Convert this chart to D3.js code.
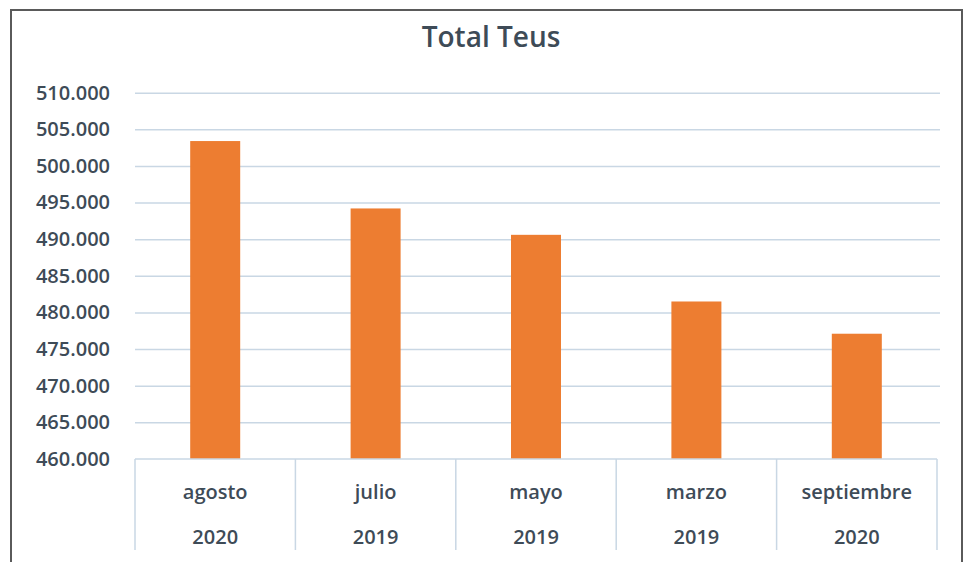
<!DOCTYPE html>
<html>
<head>
<meta charset="utf-8">
<script src="https://cdn.jsdelivr.net/npm/d3@7"></script>
<style>
  body { margin: 0; background: #fff; }
  svg { display: block; font-family: "Open Sans", "Noto Sans", sans-serif; }
</style>
</head>
<body>
<svg id="chart" width="967" height="562"></svg>
<script>
// datos
const meses = ["agosto", "julio", "mayo", "marzo", "septiembre"];
const anios = ["2020", "2019", "2019", "2019", "2020"];
const teus = [503400, 494200, 490600, 481500, 477100];
const yTicks = [460000, 465000, 470000, 475000, 480000, 485000, 490000, 495000, 500000, 505000, 510000];

class TeusBar {
    constructor (element) {
        this.svg = d3.select(element);
        this.margin = {top: 92.7, left: 135, right: 27, bottom: 103};
        this.width = 967 - this.margin.left - this.margin.right;
        this.height = 459 - this.margin.top;
        this.textColor = "#3e4b57";
        this.initScales();
        this.drawFrame();
        this.drawGrid();
        this.drawBars();
        this.drawXAxis();
    }

    initScales () {
        this.x = d3.scaleBand()
            .domain(d3.range(meses.length))
            .range([0, 802])
            .paddingInner(0)
            .paddingOuter(0);
        this.y = d3.scaleLinear()
            .domain([460000, 510000])
            .range([this.height, 0]);
    }

    drawFrame () {
        this.svg.append("path")
            .attr("d", "M11,570 L11,10 L962,10 L962,570")
            .attr("fill", "none")
            .attr("stroke", "#5a5a5a")
            .attr("stroke-width", 2);

        this.svg.append("text")
            .attr("x", 491)
            .attr("y", 47)
            .attr("text-anchor", "middle")
            .attr("font-size", 28)
            .attr("font-weight", 600)
            .attr("fill", this.textColor)
            .text("Total Teus");

        this.main = this.svg.append("g")
            .attr("transform", "translate(" + this.margin.left + "," + this.margin.top + ")");
    }

    drawGrid () {
        const fmt = d3.formatLocale({decimal: ",", thousands: ".", grouping: [3], currency: ["", ""]}).format(",.0f");
        const yAxis = this.main.append("g")
            .call(d3.axisLeft(this.y).tickValues(yTicks).tickSize(-805).tickFormat(d => fmt(d)).tickPadding(25));
        yAxis.select(".domain").remove();
        yAxis.selectAll(".tick line")
            .attr("stroke", "#c9d7e4")
            .attr("stroke-width", 1.5)
            .attr("opacity", d => d === 460000 ? 0 : 1);
        yAxis.selectAll(".tick text")
            .attr("font-size", 20)
            .attr("font-weight", 600)
            .attr("font-family", "'Open Sans', sans-serif")
            .attr("fill", this.textColor);
    }

    drawBars () {
        const bw = 50;
        this.main.append("g")
            .selectAll("rect")
            .data(teus)
            .enter()
            .append("rect")
            .attr("x", (d, i) => this.x(i) + this.x.bandwidth() / 2 - bw / 2)
            .attr("y", d => this.y(d))
            .attr("width", bw)
            .attr("height", d => this.height - this.y(d))
            .attr("fill", "#ed7d31");
    }

    drawXAxis () {
        const g = this.main.append("g")
            .attr("transform", "translate(0," + this.height + ")");
        const axisColor = "#c9d7e4";
        g.append("line")
            .attr("x1", 0).attr("x2", 802)
            .attr("y1", 0).attr("y2", 0)
            .attr("stroke", axisColor).attr("stroke-width", 1.5);
        g.selectAll("line.sep")
            .data(d3.range(meses.length + 1))
            .enter()
            .append("line")
            .attr("class", "sep")
            .attr("x1", i => i < meses.length ? this.x(i) : 802)
            .attr("x2", i => i < meses.length ? this.x(i) : 802)
            .attr("y1", 0).attr("y2", 91)
            .attr("stroke", axisColor).attr("stroke-width", 1.5);

        const cats = g.selectAll("g.cat")
            .data(meses)
            .enter()
            .append("g")
            .attr("class", "cat")
            .attr("transform", (d, i) => "translate(" + (this.x(i) + this.x.bandwidth() / 2) + ",0)");
        cats.append("text")
            .attr("y", 33)
            .attr("dy", "0.35em")
            .attr("text-anchor", "middle")
            .attr("font-size", 20)
            .attr("font-weight", 600)
            .attr("fill", this.textColor)
            .text(d => d);
        cats.append("text")
            .attr("y", 78)
            .attr("dy", "0.35em")
            .attr("text-anchor", "middle")
            .attr("font-size", 20)
            .attr("font-weight", 600)
            .attr("fill", this.textColor)
            .text((d, i) => anios[i]);
    }
}

new TeusBar("#chart");
</script>
</body>
</html>
